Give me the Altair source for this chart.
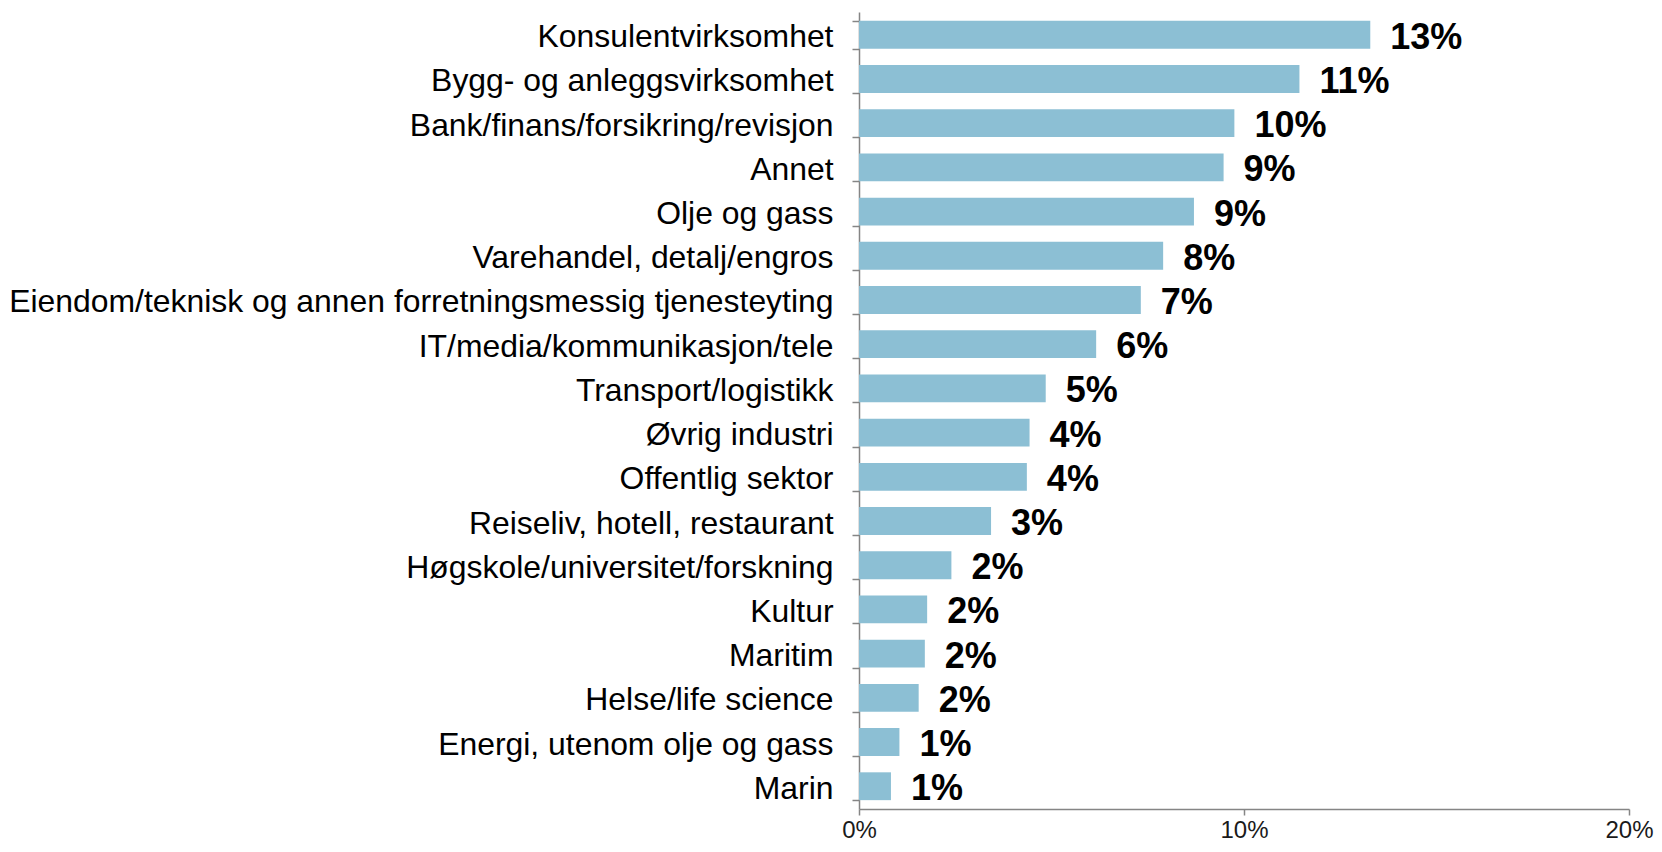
import altair as alt
import pandas as pd

categories = [
    "Konsulentvirksomhet",
    "Bygg- og anleggsvirksomhet",
    "Bank/finans/forsikring/revisjon",
    "Annet",
    "Olje og gass",
    "Varehandel, detalj/engros",
    "Eiendom/teknisk og annen forretningsmessig tjenesteyting",
    "IT/media/kommunikasjon/tele",
    "Transport/logistikk",
    "Øvrig industri",
    "Offentlig sektor",
    "Reiseliv, hotell, restaurant",
    "Høgskole/universitet/forskning",
    "Kultur",
    "Maritim",
    "Helse/life science",
    "Energi, utenom olje og gass",
    "Marin",
]
values = [13.28, 11.44, 9.75, 9.47, 8.70, 7.90, 7.32, 6.16, 4.85, 4.43, 4.36,
          3.43, 2.40, 1.77, 1.71, 1.55, 1.05, 0.83]
value_labels = ["13%", "11%", "10%", "9%", "9%", "8%", "7%", "6%", "5%", "4%",
                "4%", "3%", "2%", "2%", "2%", "2%", "1%", "1%"]
x_ticks = [0, 0.1, 0.2]

df = pd.DataFrame({
    "cat": categories,
    "val": [v / 100 for v in values],
    "lab": value_labels,
})

FONT = "Liberation Sans"
AXIS_GREY = "#858585"

y_enc = alt.Y(
    "cat:N",
    sort=categories,
    scale=alt.Scale(paddingInner=0.37, paddingOuter=0.2),
    axis=alt.Axis(
        title=None,
        labelFont=FONT,
        labelFontSize=31.9,
        labelColor="#000000",
        labelLimit=1000,
        labelPadding=19,
        labelOffset=2,
        tickSize=7,
        tickBand="extent",
        tickColor=AXIS_GREY,
        tickWidth=1.5,
        domainColor=AXIS_GREY,
        domainWidth=1.5,
        grid=False,
    ),
)

x_enc = alt.X(
    "val:Q",
    scale=alt.Scale(domain=[0, 0.2], nice=False),
    axis=alt.Axis(
        title=None,
        values=x_ticks,
        format=".0%",
        labelFont=FONT,
        labelFontSize=24,
        labelColor="#1a1a1a",
        labelPadding=3,
        labelFlush=False,
        labelAlign="center",
        labelOverlap=False,
        tickSize=6,
        tickColor=AXIS_GREY,
        tickWidth=1.5,
        domainColor=AXIS_GREY,
        domainWidth=1.5,
        grid=False,
    ),
)

bars = alt.Chart(df).mark_bar(color="#8cbfd4").encode(x=x_enc, y=y_enc)

text = alt.Chart(df).mark_text(
    align="left",
    baseline="middle",
    dx=20,
    dy=3,
    font=FONT,
    fontSize=36,
    fontWeight="bold",
    color="#000000",
).encode(
    x="val:Q",
    y=alt.Y("cat:N", sort=categories),
    text="lab:N",
)

chart = (
    alt.layer(bars, text)
    .properties(
        width=770,
        height=797,
        autosize=alt.AutoSizeParams(type="none"),
        padding={"left": 851, "top": 4, "right": 25, "bottom": 35},
        view=alt.ViewBackground(stroke="transparent", strokeWidth=0),
    )
    .configure_view(strokeWidth=0, stroke="transparent")
    .configure_axis(grid=False)
    .configure(background="#ffffff")
)

chart.save("out.html", embed_options={"renderer": "svg", "actions": False})
